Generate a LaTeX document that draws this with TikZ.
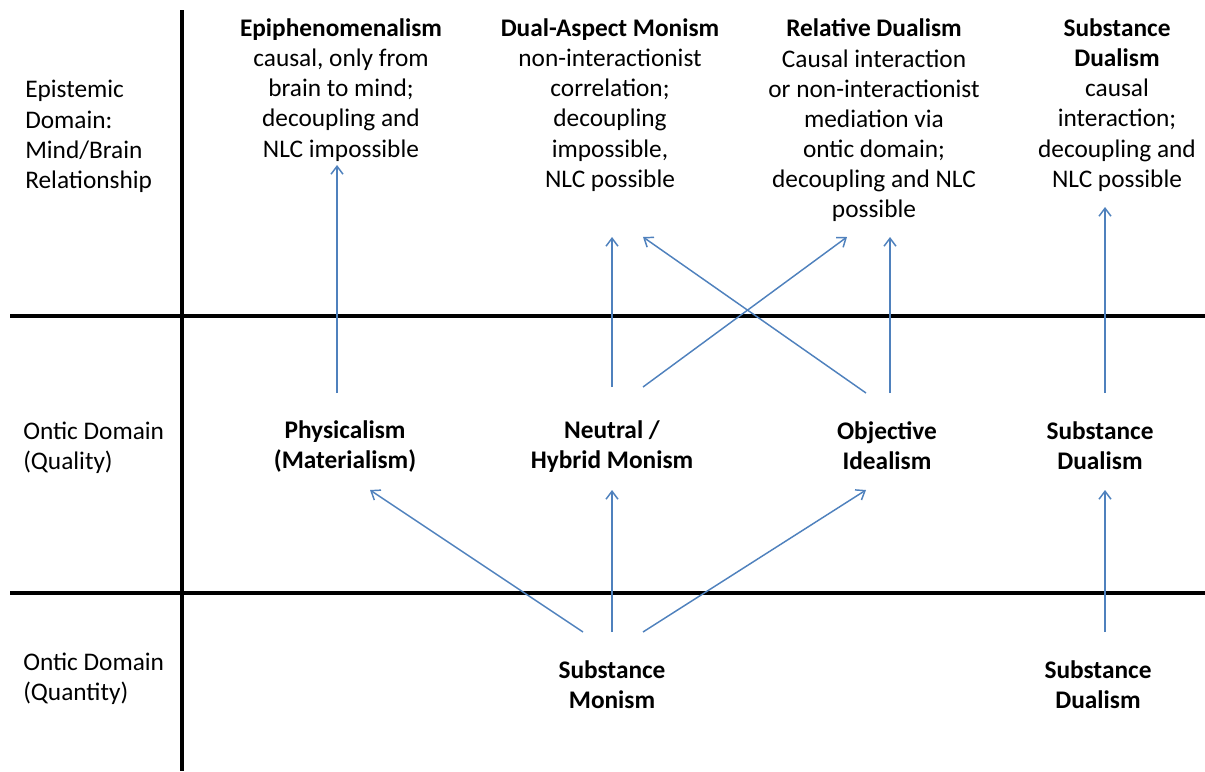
\documentclass[tikz,border=0pt]{standalone}
\usepackage{fontspec}
\setmainfont{Carlito}
\usetikzlibrary{arrows.meta}
\definecolor{arrowblue}{HTML}{4F81BD}
\begin{document}
\begin{tikzpicture}[x=0.75pt,y=-0.75pt,
  txt/.style={inner sep=0pt,align=center,font=\fontsize{19}{22.6}\selectfont},
  head/.style={txt,font=\fontsize{19}{22.6}\selectfont\bfseries},
  lbl/.style={inner sep=0pt,align=left,anchor=west,font=\fontsize{19}{22.6}\selectfont},
  rule/.style={line width=2.3pt,black},
  link/.style={arrowblue,line width=1.1pt,-{Straight Barb[length=6pt,width=9pt,line width=1.1pt]}}]
\useasboundingbox (0,0) rectangle (1205,771);

% grid lines
\draw[rule] (182,10) -- (182,771);
\draw[rule] (10,316) -- (1205,316);
\draw[rule] (10,593) -- (1205,593);

% row labels
\node[lbl] (rowEpi) at (25,136.5) {Epistemic\\Domain:\\Mind/Brain\\Relationship};
\node[lbl] (rowQual) at (23,448) {Ontic Domain\\(Quality)};
\node[lbl] (rowQuant) at (23,678.5) {Ontic Domain\\(Quantity)};

% epistemic domain
\node[txt] (epi) at (341,90) {\textbf{Epiphenomenalism}\\causal, only from\\brain to mind;\\decoupling and\\NLC impossible};
\node[txt] (dam) at (610,105) {\textbf{Dual-Aspect Monism}\\non-interactionist\\correlation;\\decoupling\\impossible,\\NLC possible};
\node[txt] (rd) at (874,120.5) {\textbf{Relative Dualism}\\Causal interaction\\or non-interactionist\\mediation via\\ontic domain;\\decoupling and NLC\\possible};
\node[txt] (sdE) at (1117,105) {\textbf{Substance}\\\textbf{Dualism}\\causal\\interaction;\\decoupling and\\NLC possible};

% ontic domain, quality
\node[head] (phys) at (345,446.5) {Physicalism\\(Materialism)};
\node[head] (neut) at (612,446.5) {Neutral /\\Hybrid Monism};
\node[head] (oid) at (887,446) {Objective\\Idealism};
\node[head] (sdQ) at (1100,446) {Substance\\Dualism};

% ontic domain, quantity
\node[head] (smon) at (612,685) {Substance\\Monism};
\node[head] (sdN) at (1098,685) {Substance\\Dualism};

% arrow end points
\coordinate (physUp) at (337,393);  \coordinate (epiIn) at (337,165);
\coordinate (neutUp) at (612,387);  \coordinate (damIn) at (612,237);
\coordinate (neutRt) at (643,387);  \coordinate (rdInL) at (847,237);
\coordinate (oidLt) at (866,393);   \coordinate (damInR) at (643,237);
\coordinate (oidUp) at (890,393);   \coordinate (rdIn) at (890,237);
\coordinate (sdQUp) at (1105,393);  \coordinate (sdEIn) at (1105,207);
\coordinate (smonL) at (583,632);   \coordinate (physIn) at (370,490);
\coordinate (smonC) at (612,632);   \coordinate (neutIn) at (612,490);
\coordinate (smonR) at (643,632);   \coordinate (oidIn) at (866,490);
\coordinate (sdNUp) at (1105,632);  \coordinate (sdQIn) at (1105,490);

% connectors
\draw[link] (physUp) -- (epiIn);
\draw[link] (neutUp) -- (damIn);
\draw[link] (neutRt) -- (rdInL);
\draw[link] (oidLt) -- (damInR);
\draw[link] (oidUp) -- (rdIn);
\draw[link] (sdQUp) -- (sdEIn);
\draw[link] (smonL) -- (physIn);
\draw[link] (smonC) -- (neutIn);
\draw[link] (smonR) -- (oidIn);
\draw[link] (sdNUp) -- (sdQIn);
\end{tikzpicture}
\end{document}
